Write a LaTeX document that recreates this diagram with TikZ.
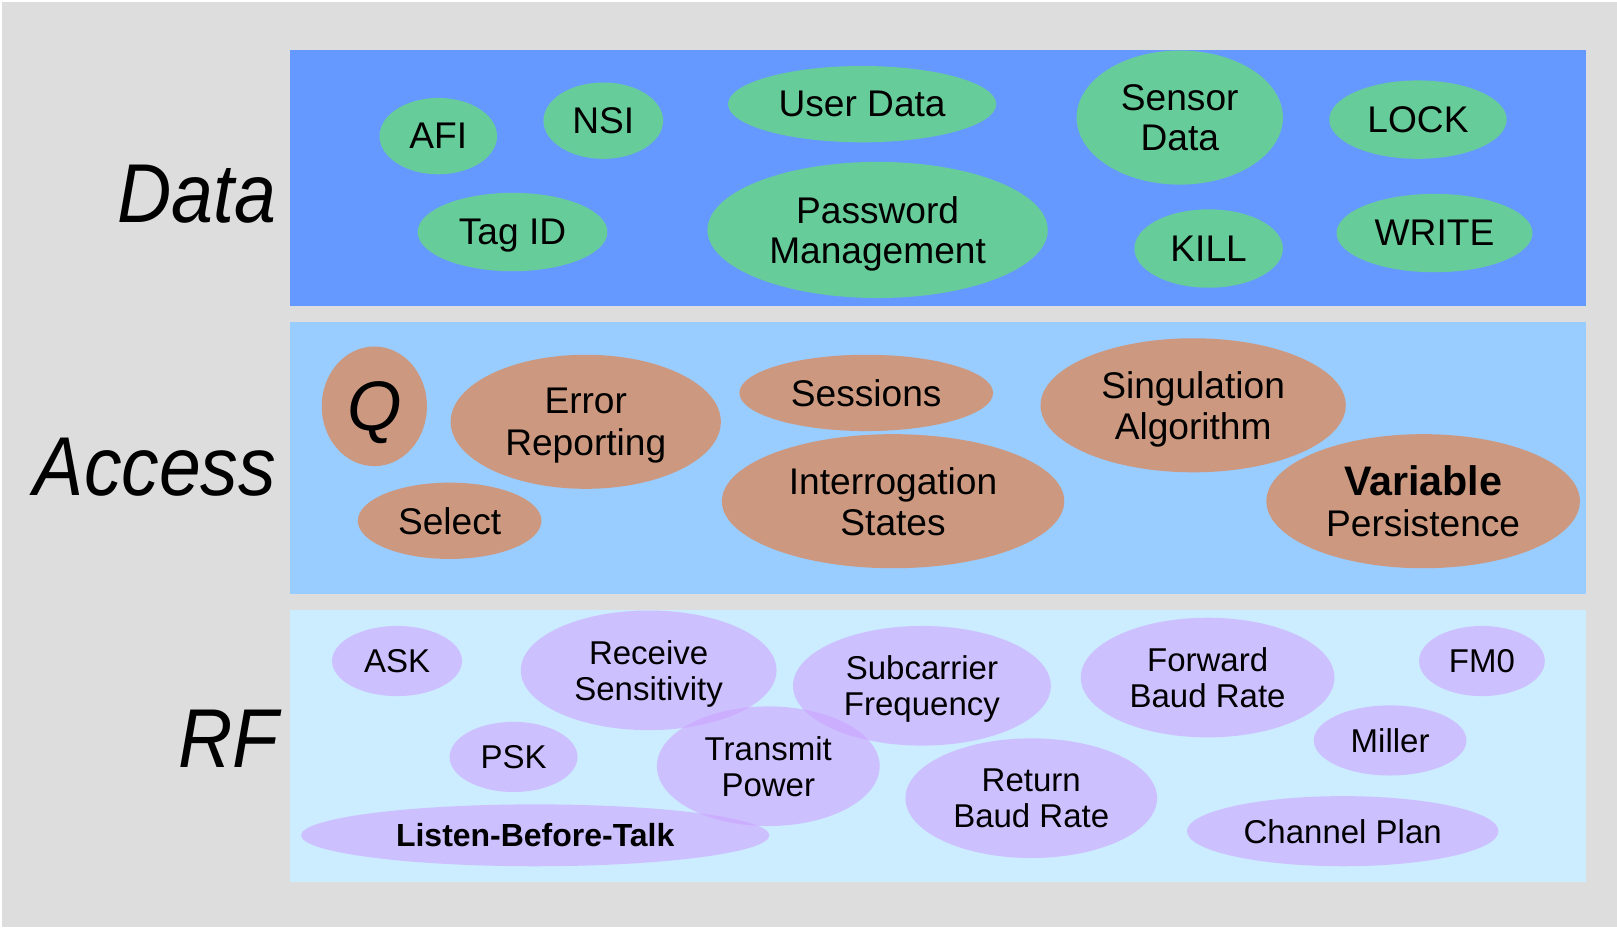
\documentclass[tikz,border=0pt]{standalone}
\usepackage{fontspec}
\setmainfont{Liberation Sans}
\newfontfamily\layerfont[FakeStretch=0.9]{Liberation Sans}
\usetikzlibrary{shapes.geometric}

\definecolor{pagegray}{HTML}{DDDDDD}
\definecolor{datablue}{HTML}{6699FF}
\definecolor{accessblue}{HTML}{99CCFF}
\definecolor{rfcyan}{HTML}{CCECFF}
\definecolor{datagreen}{HTML}{66CC99}
\definecolor{accesstan}{HTML}{CC9980}
\definecolor{rfviolet}{RGB}{204,163,255}

\tikzset{
  band/.style={rectangle, draw=none, inner sep=0pt, anchor=north west},
  bubble/.style={ellipse, draw=none, inner sep=0pt, align=center, text depth=0pt, text opacity=1},
  databubble/.style={bubble, fill=datagreen, font=\fontsize{36}{39}\selectfont},
  accbubble/.style={bubble, fill=accesstan, font=\fontsize{36}{40}\selectfont},
  rfbubble/.style={bubble, fill=rfviolet, fill opacity=0.6, font=\fontsize{32}{35}\selectfont},
  layerlabel/.style={anchor=base east, inner sep=0pt, font=\layerfont\itshape\fontsize{81}{81}\selectfont},
  sz/.style 2 args={minimum width=#1, minimum height=#2}
}

\begin{document}
\begin{tikzpicture}[x=1pt, y=-1pt]
  % page
  \fill[white] (0,0) rectangle (1568,899);
  \fill[pagegray] (2,2) rectangle (1568,899);
  \useasboundingbox (0,0) rectangle (1568,899);

  % layer bands
  \node[band, fill=datablue,   minimum width=1257, minimum height=249] (databand)   at (281,48)  {};
  \node[band, fill=accessblue, minimum width=1257, minimum height=264] (accessband) at (281,312) {};
  \node[band, fill=rfcyan,     minimum width=1257, minimum height=264] (rfband)     at (281,591) {};

  % layer names
  \node[layerlabel] (datalabel)   at (268,216) {Data};
  \node[layerlabel] (accesslabel) at (268,480) {Access};
  \node[layerlabel] (rflabel)     at (270,744) {RF};

  % data layer
  \node[databubble, sz={114}{74}]  (afi)      at (425,132)  {AFI};
  \node[databubble, sz={116}{74}]  (nsi)      at (585,117)  {NSI};
  \node[databubble, sz={260}{74}]  (userdata) at (836,101)  {User Data};
  \node[databubble, sz={200}{130}] (sensor)   at (1144,114) {Sensor\\Data};
  \node[databubble, sz={172}{76}]  (lock)     at (1375,116) {LOCK};
  \node[databubble, sz={184}{76}]  (tagid)    at (497,225)  {Tag ID};
  \node[databubble, sz={330}{132}] (password) at (851,223)  {Password\\Management};
  \node[databubble, sz={144}{76}]  (kill)     at (1172,241) {KILL};
  \node[databubble, sz={190}{76}]  (write)    at (1391,226) {WRITE};

  % access layer
  \node[accbubble, sz={102}{116}] (q)        at (363,394)  {\fontsize{68}{68}\selectfont\itshape Q};
  \node[accbubble, sz={262}{130}] (error)    at (568,409)  {Error\\Reporting};
  \node[accbubble, sz={246}{74}]  (sessions) at (840,381)  {Sessions};
  \node[accbubble, sz={296}{130}] (singul)   at (1157,393) {Singulation\\Algorithm};
  \node[accbubble, sz={178}{74}]  (select)   at (436,505)  {Select};
  \node[accbubble, sz={332}{130}] (interrog) at (866,486)  {Interrogation\\States};
  \node[accbubble, sz={304}{130}] (persist)  at (1380,486) {{\fontsize{40}{40}\selectfont\bfseries Variable}\\Persistence};

  % rf layer
  \node[rfbubble, sz={126}{68}]  (ask)      at (385,641)  {ASK};
  \node[rfbubble, sz={248}{116}] (receive)  at (629,650)  {Receive\\Sensitivity};
  \node[rfbubble, sz={250}{116}] (subcarr)  at (894,665)  {Subcarrier\\Frequency};
  \node[rfbubble, sz={246}{116}] (forward)  at (1171,657) {Forward\\Baud Rate};
  \node[rfbubble, sz={122}{68}]  (fmzero)   at (1437,641) {FM0};
  \node[rfbubble, sz={124}{68}]  (psk)      at (498,734)  {PSK};
  \node[rfbubble, sz={216}{116}] (transmit) at (745,743)  {Transmit\\Power};
  \node[rfbubble, sz={148}{68}]  (miller)   at (1348,718) {Miller};
  \node[rfbubble, sz={244}{116}] (return)   at (1000,774) {Return\\Baud Rate};
  \node[rfbubble, sz={454}{60}, font=\fontsize{31}{31}\selectfont\bfseries] (lbt) at (519,810) {Listen-Before-Talk};
  \node[rfbubble, sz={302}{68}]  (channel)  at (1302,806) {Channel Plan};
\end{tikzpicture}
\end{document}
